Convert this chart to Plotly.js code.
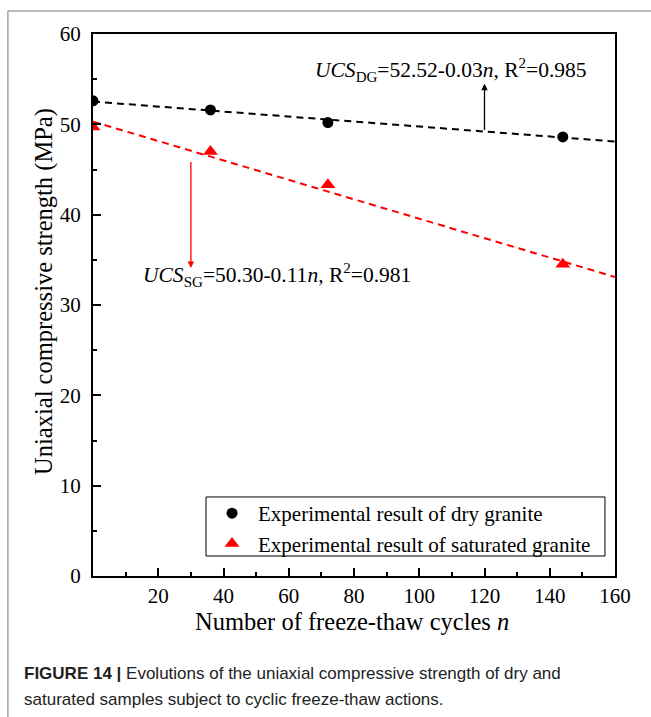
<!DOCTYPE html>
<html>
<head>
<meta charset="utf-8">
<script src="https://cdn.plot.ly/plotly-3.0.1.min.js"></script>
<style>
html,body{margin:0;padding:0;background:#fff;}
#chart{width:651px;height:717px;}
</style>
</head>
<body>
<div id="chart"></div>
<script>
// Data
const cycles = [0, 36, 72, 144];
const dryUCS = [52.6, 51.6, 50.2, 48.6];
const satUCS = [49.7, 47.0, 43.3, 34.5];
const fitX = [0, 160];
const fitDry = [52.52, 48.1];
const fitSat = [50.30, 33.1];
const xTicks = [20, 40, 60, 80, 100, 120, 140, 160];
const yTicks = [0, 10, 20, 30, 40, 50, 60];

const serif = 'Liberation Serif, Times New Roman, serif';
const sans = 'Liberation Sans Narrow, Liberation Sans, Arial, sans-serif';

const traces = [
  {x: fitX, y: fitDry, mode: 'lines', showlegend: false, hoverinfo: 'skip',
   line: {color: '#000', width: 2, dash: '7px,5px'}},
  {x: fitX, y: fitSat, mode: 'lines', showlegend: false, hoverinfo: 'skip',
   line: {color: '#ff0000', width: 2, dash: '7px,5px'}},
  {x: cycles, y: dryUCS, mode: 'markers', name: 'Experimental result of dry granite',
   marker: {symbol: 'circle', size: 11, color: '#000'}},
  {x: cycles, y: satUCS, mode: 'markers', name: 'Experimental result of saturated granite',
   marker: {symbol: 'triangle-up', size: 13, color: '#ff0000'}}
];

const layout = {
  width: 651, height: 717,
  margin: {l: 93, r: 36, t: 34, b: 141},
  paper_bgcolor: '#fff', plot_bgcolor: '#fff',
  font: {family: serif, size: 20, color: '#000'},
  showlegend: true,
  xaxis: {
    range: [0, 160], tickvals: xTicks, ticktext: xTicks.map(String),
    ticks: 'inside', ticklen: 8, tickwidth: 2, tickcolor: '#000',
    minor: {tickvals: [10, 30, 50, 70, 90, 110, 130, 150], ticks: 'inside', ticklen: 4, tickwidth: 2, tickcolor: '#000'},
    showline: true, linewidth: 2, linecolor: '#000', mirror: true,
    showgrid: false, zeroline: false, ticklabelstandoff: 0,
    tickfont: {family: serif, size: 21}
  },
  yaxis: {
    range: [0, 60], tickvals: yTicks, ticktext: yTicks.map(String),
    ticks: 'inside', ticklen: 8, tickwidth: 2, tickcolor: '#000',
    minor: {tickvals: [5, 15, 25, 35, 45, 55], ticks: 'inside', ticklen: 4, tickwidth: 2, tickcolor: '#000'},
    showline: true, linewidth: 2, linecolor: '#000', mirror: true,
    showgrid: false, zeroline: false, ticklabelstandoff: 6,
    tickfont: {family: serif, size: 21}
  },
  legend: {
    x: 0.2165, y: 0.153, xanchor: 'left', yanchor: 'top',
    borderwidth: 0, bgcolor: 'rgba(0,0,0,0)',
    font: {family: serif, size: 21}, tracegroupgap: 0, itemwidth: 42
  },
  annotations: [
    {x: 0.496, y: -0.0835, xref: 'paper', yref: 'paper', showarrow: false,
     text: 'Number of freeze-thaw cycles <i>n</i>', font: {family: serif, size: 24.5},
     xanchor: 'center', yanchor: 'middle'},
    {x: -0.0939, y: 0.526, xref: 'paper', yref: 'paper', showarrow: false, textangle: -90,
     text: 'Uniaxial compressive strength (MPa)', font: {family: serif, size: 24.5},
     xanchor: 'center', yanchor: 'middle'},
    {x: 109.7, y: 56.0, xref: 'x', yref: 'y', showarrow: false,
     text: '<i>UCS</i><sub>DG</sub>=52.52-0.03<i>n</i>, R<sup>2</sup>=0.985',
     font: {family: serif, size: 21.5, color: '#000'}, xanchor: 'center', yanchor: 'middle'},
    {x: 120, y: 54.5, ax: 120, ay: 49.2, xref: 'x', yref: 'y', axref: 'x', ayref: 'y',
     showarrow: true, arrowhead: 2, arrowsize: 1, arrowwidth: 1.3, arrowcolor: '#000', text: ''},
    {x: 56.4, y: 33.3, xref: 'x', yref: 'y', showarrow: false,
     text: '<i>UCS</i><sub>SG</sub>=50.30-0.11<i>n</i>, R<sup>2</sup>=0.981',
     font: {family: serif, size: 21.5, color: '#000'}, xanchor: 'center', yanchor: 'middle'},
    {x: 30, y: 34.1, ax: 30, ay: 46.0, xref: 'x', yref: 'y', axref: 'x', ayref: 'y',
     showarrow: true, arrowhead: 2, arrowsize: 1, arrowwidth: 1.3, arrowcolor: '#ff0000', text: ''},
    {x: -0.136, y: -0.159, xref: 'paper', yref: 'paper', xanchor: 'left', yanchor: 'top', showarrow: false,
     text: '<b>FIGURE 14 |</b> Evolutions of the uniaxial compressive strength of dry and',
     font: {family: sans, size: 17, color: '#222'}},
    {x: -0.136, y: -0.207, xref: 'paper', yref: 'paper', xanchor: 'left', yanchor: 'top', showarrow: false,
     text: 'saturated samples subject to cyclic freeze-thaw actions.',
     font: {family: sans, size: 17, color: '#222'}}
  ],
  shapes: [
    {type: 'rect', xref: 'paper', yref: 'paper', x0: 0.2165, x1: 0.9808, y0: 0.0369, y1: 0.1458,
     line: {color: '#000', width: 1}, fillcolor: 'rgba(0,0,0,0)', layer: 'above'},
    {type: 'line', xref: 'paper', yref: 'paper', x0: -0.163, x1: 1.07, y0: 1.0424, y1: 1.0424,
     line: {color: '#777', width: 1}},
    {type: 'line', xref: 'paper', yref: 'paper', x0: -0.163, x1: -0.163, y0: 1.0424, y1: -0.27,
     line: {color: '#777', width: 1}}
  ]
};

Plotly.newPlot('chart', traces, layout, {displayModeBar: false, staticPlot: true});
</script>
</body>
</html>
